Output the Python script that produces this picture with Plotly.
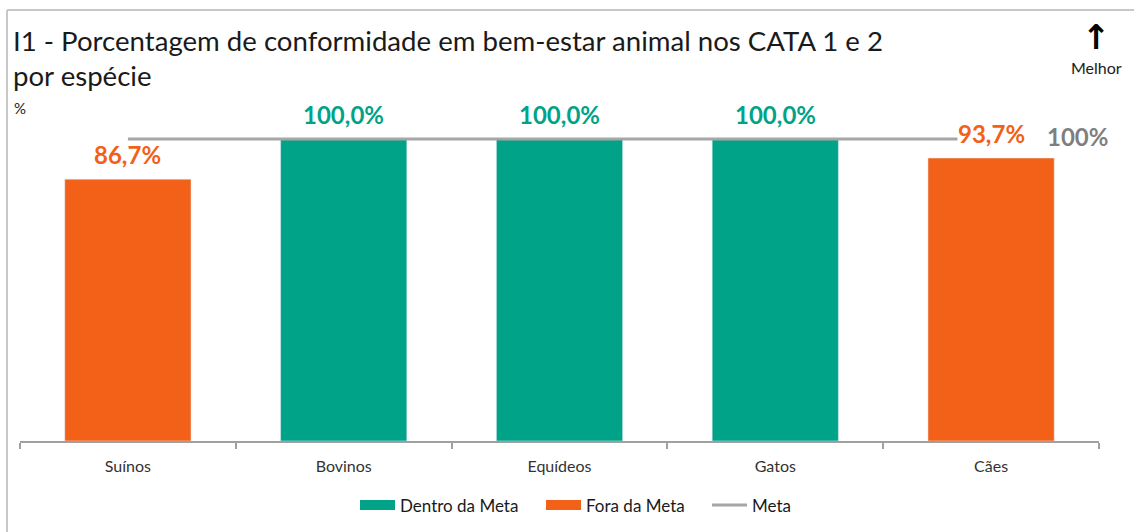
import plotly.graph_objects as go

categories = ["Suínos", "Bovinos", "Equídeos", "Gatos", "Cães"]
values = [86.7, 100.0, 100.0, 100.0, 93.7]
meta = [100, 100, 100, 100, 100]
title_line1 = "I1 - Porcentagem de conformidade em bem-estar animal nos CATA 1 e 2"
title_line2 = "por espécie"

GREEN = "#00a388"
ORANGE = "#f26117"
GRAY_LINE = "#a6a6a6"
FONT = "Lato, 'Open Sans', sans-serif"

W, H = 1134, 532
L, R, T, B = 20, 35, 105, 91
PW, PH = W - L - R, H - T - B

def px(x):
    return (x - L) / PW

def py(y):
    return (H - B - y) / PH

inside = [v if v >= m else None for v, m in zip(values, meta)]
outside = [v if v < m else None for v, m in zip(values, meta)]

fig = go.Figure()
fig.add_trace(go.Bar(x=categories, y=inside, name="Dentro da Meta",
                     marker=dict(color=GREEN), width=0.585, showlegend=False))
fig.add_trace(go.Bar(x=categories, y=outside, name="Fora da Meta",
                     marker=dict(color=ORANGE), width=0.585, showlegend=False))
fig.add_trace(go.Scatter(x=categories, y=meta, name="Meta", mode="lines",
                         line=dict(color=GRAY_LINE, width=3), showlegend=False))

annotations = []
for i, (c, v, m) in enumerate(zip(categories, values, meta)):
    col = GREEN if v >= m else ORANGE
    bg = "white" if i == len(categories) - 1 else "rgba(0,0,0,0)"
    annotations.append(dict(x=c, y=v, xref="x", yref="y", yanchor="bottom",
                            text=f"{v:.1f}%".replace(".", ","), showarrow=False,
                            yshift=9, bgcolor=bg, borderpad=0,
                            font=dict(family=FONT, size=24, color=col, weight="bold")))
annotations.append(dict(x=categories[-1], y=meta[-1], xref="x", yref="y",
                        xanchor="left", yanchor="middle", xshift=54, yshift=3,
                        text=f"{meta[-1]}%", showarrow=False,
                        font=dict(family=FONT, size=24, color="#7f7f7f", weight="bold")))
annotations += [
    dict(x=px(11), y=py(40), xref="paper", yref="paper", xanchor="left", yanchor="middle",
         text=title_line1, showarrow=False, font=dict(family=FONT, size=27.6, color="#1a1a1a")),
    dict(x=px(11), y=py(75), xref="paper", yref="paper", xanchor="left", yanchor="middle",
         text=title_line2, showarrow=False, font=dict(family=FONT, size=27.6, color="#1a1a1a")),
    dict(x=px(12), y=py(108), xref="paper", yref="paper", xanchor="left", yanchor="middle",
         text="%", showarrow=False, font=dict(family=FONT, size=15, color="#1a1a1a")),
    dict(x=px(1096), y=py(37), xref="paper", yref="paper", xanchor="center", yanchor="middle",
         text="<b>↑</b>", showarrow=False, font=dict(family="DejaVu Sans", size=34, color="#000000")),
    dict(x=px(1096), y=py(68), xref="paper", yref="paper", xanchor="center", yanchor="middle",
         text="Melhor", showarrow=False, font=dict(family=FONT, size=16, color="#1a1a1a")),
]

shapes = [
    dict(type="line", xref="paper", yref="paper", x0=px(7), x1=px(7), y0=py(10), y1=py(532),
         line=dict(color="#c8c8c8", width=2)),
    dict(type="line", xref="paper", yref="paper", x0=px(7), x1=px(1134), y0=py(10), y1=py(10),
         line=dict(color="#c8c8c8", width=2)),
]

# custom legend (wide swatches like the original)
LEG_Y = 505
legend_items = [
    ("bar", GREEN, fig.data[0].name, 360),
    ("bar", ORANGE, fig.data[1].name, 546),
    ("line", GRAY_LINE, fig.data[2].name, 712),
]
for kind, col, name, x0 in legend_items:
    if kind == "bar":
        shapes.append(dict(type="rect", xref="paper", yref="paper",
                           x0=px(x0), x1=px(x0 + 35), y0=py(LEG_Y - 5), y1=py(LEG_Y + 5),
                           fillcolor=col, line=dict(width=0)))
    else:
        shapes.append(dict(type="line", xref="paper", yref="paper",
                           x0=px(x0), x1=px(x0 + 35), y0=py(LEG_Y), y1=py(LEG_Y),
                           line=dict(color=col, width=3)))
    annotations.append(dict(x=px(x0 + 38), y=py(LEG_Y), xref="paper", yref="paper",
                            xanchor="left", yanchor="middle", text=name, showarrow=False,
                            font=dict(family=FONT, size=17, color="#1a1a1a")))

fig.update_layout(
    width=W, height=H,
    margin=dict(l=L, r=R, t=T, b=B, autoexpand=False),
    plot_bgcolor="white", paper_bgcolor="white",
    barmode="overlay",
    separators=",.",
    showlegend=False,
    xaxis=dict(range=[-0.5, len(categories) - 0.5], showline=True, linecolor="#a0a0a0",
               linewidth=2, ticks="outside",
               tickson="boundaries", ticklen=6, tickcolor="#a0a0a0", tickwidth=2,
               showgrid=False, tickfont=dict(family=FONT, size=16, color="#333333"),
               ticklabelstandoff=10, automargin=False, fixedrange=True),
    yaxis=dict(range=[0, PH / 302 * 100], visible=False, showgrid=False,
               automargin=False, fixedrange=True),
    annotations=annotations,
    shapes=shapes,
    font=dict(family=FONT),
)

fig.write_html("out.html", config=dict(displayModeBar=False),
               post_script="document.body.style.margin='0';document.body.style.overflow='hidden';")
